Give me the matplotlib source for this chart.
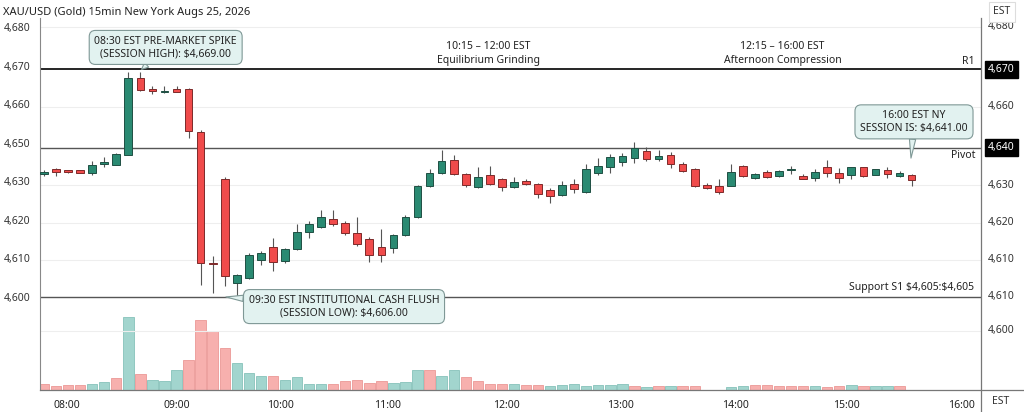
import matplotlib
matplotlib.use("Agg")
import matplotlib.pyplot as plt
from matplotlib.transforms import blended_transform_factory
from matplotlib.lines import Line2D

plt.rcParams['font.family'] = ['Noto Sans', 'DejaVu Sans']

# 15min candles (price in chart scale units)
opens = [4641.8, 4643.1, 4642.8, 4642.8, 4642.1, 4644.6, 4644.3, 4646.9, 4666.8, 4664.0,
         4663.1, 4663.9, 4663.8, 4652.7, 4618.9, 4640.6, 4613.7, 4615.0, 4619.6, 4623.0,
         4619.4, 4622.4, 4626.8, 4628.2, 4630.3, 4629.1, 4626.5, 4625.0, 4623.0, 4622.6,
         4626.1, 4630.6, 4638.8, 4642.1, 4645.5, 4641.8, 4638.6, 4641.5, 4640.6, 4638.6,
         4640.1, 4639.2, 4637.7, 4636.4, 4639.2, 4637.1, 4642.1, 4643.7, 4644.9, 4646.0,
         4647.8, 4645.7, 4646.7, 4644.6, 4643.1, 4639.1, 4638.8, 4638.8, 4644.0, 4640.8,
         4642.3, 4641.3, 4642.9, 4641.4, 4640.8, 4643.7, 4642.1, 4641.5, 4643.6, 4641.6,
         4643.0, 4641.4, 4641.6]
highs = [4642.8, 4643.4, 4643.0, 4643.0, 4645.3, 4646.3, 4647.2, 4668.3, 4668.3, 4664.7,
         4664.7, 4664.6, 4664.2, 4653.3, 4620.7, 4641.0, 4615.9, 4621.5, 4622.0, 4625.4,
         4622.7, 4628.9, 4629.7, 4632.5, 4632.5, 4629.8, 4630.7, 4625.5, 4627.6, 4626.3,
         4631.3, 4639.0, 4643.1, 4648.1, 4646.8, 4642.1, 4643.6, 4644.0, 4640.9, 4641.0,
         4640.5, 4639.6, 4638.2, 4640.1, 4640.5, 4644.5, 4645.9, 4647.1, 4647.4, 4650.1,
         4649.0, 4648.1, 4647.5, 4645.1, 4643.4, 4639.5, 4640.5, 4644.5, 4644.2, 4642.1,
         4642.9, 4643.0, 4644.0, 4641.8, 4643.2, 4645.5, 4643.4, 4643.8, 4643.8, 4643.3,
         4643.8, 4642.7, 4642.0]
lows = [4641.4, 4641.4, 4642.1, 4642.1, 4641.6, 4643.7, 4644.2, 4646.8, 4663.3, 4662.6,
        4662.9, 4663.1, 4651.2, 4613.1, 4611.1, 4612.8, 4610.1, 4614.7, 4618.3, 4616.6,
        4618.8, 4622.2, 4625.2, 4628.0, 4628.3, 4626.1, 4623.2, 4619.1, 4619.1, 4621.3,
        4625.8, 4630.4, 4638.6, 4641.9, 4641.6, 4638.6, 4638.2, 4639.0, 4637.5, 4638.2,
        4639.0, 4635.7, 4634.4, 4636.2, 4636.9, 4636.9, 4641.6, 4642.2, 4644.0, 4644.8,
        4645.3, 4645.3, 4643.4, 4642.5, 4638.6, 4638.0, 4636.6, 4638.7, 4641.2, 4640.5,
        4640.9, 4641.1, 4641.9, 4640.5, 4640.1, 4641.0, 4639.5, 4640.5, 4641.2, 4641.5,
        4640.8, 4641.0, 4638.8]
closes = [4642.5, 4642.3, 4642.3, 4642.2, 4644.2, 4644.7, 4647.0, 4666.8, 4663.7, 4663.4,
          4663.5, 4663.2, 4652.9, 4618.9, 4618.5, 4615.4, 4615.6, 4620.8, 4621.5, 4619.1,
          4622.4, 4626.8, 4628.9, 4630.8, 4629.0, 4626.5, 4623.7, 4621.0, 4621.0, 4626.1,
          4630.6, 4638.8, 4642.1, 4645.3, 4641.9, 4639.0, 4641.0, 4639.4, 4638.4, 4639.8,
          4639.2, 4636.6, 4636.3, 4639.0, 4637.9, 4643.1, 4644.0, 4646.4, 4646.5, 4648.5,
          4645.7, 4646.5, 4644.5, 4642.7, 4638.8, 4638.3, 4637.3, 4642.5, 4641.4, 4641.8,
          4641.2, 4642.7, 4643.0, 4640.7, 4642.3, 4642.1, 4640.8, 4643.6, 4641.4, 4643.2,
          4641.9, 4642.2, 4640.3]

volumes = [57, 43, 50, 50, 63, 80, 120, 727, 160, 97,
           93, 197, 300, 700, 590, 420, 270, 167, 140, 140,
           100, 130, 60, 60, 60, 93, 97, 73, 90, 73,
           83, 197, 197, 143, 197, 133, 90, 63, 63, 60,
           50, 50, 40, 50, 60, 43, 50, 53, 60, 40,
           33, 43, 40, 40, 40, 0, 0, 33, 43, 50,
           50, 40, 40, 40, 40, 33, 43, 50, 43, 40,
           40, 40, 0]
vol_dir = list("dddduududuuuddddu uudu uuudd".replace(" ", "")) \
    + list("dddu uudu udddd udduu uuuuu dudud duu".replace(" ", "")) \
    + list("uuddd ddudd uduud d".replace(" ", ""))

time_ticks = [1.9, 11.0, 19.6, 28.5, 38.4, 47.8, 57.4, 66.6, 76.1]
time_labels = ["08:00", "09:00", "10:00", "11:00", "12:00", "13:00", "14:00", "15:00", "16:00"]

left_ticks = [4680, 4670, 4660, 4650, 4640, 4630, 4620, 4610]
left_labels = ["4,680", "4,670", "4,660", "4,650", "4,630", "4,620", "4,610", "4,600"]

right_ticks = [4680, 4669, 4659.3, 4648.7, 4639.0, 4629.2, 4619.6, 4610, 4601.2]
right_labels = ["4,680", "4,670", "4,660", "4,640", "4,630", "4,620", "4,610", "4,610", "4,600"]
right_boxed = [False, True, False, True, False, False, False, False, False]

r1_level = 4669
pivot_level = 4648.7
support_level = 4610

UP = '#2a8a72'
DOWN = '#f04b4b'
UP_EDGE = '#1f4f43'
DOWN_EDGE = '#7d2a2a'
VOL_UP = '#a2d5ce'
VOL_DOWN = '#f7b0ae'

fig = plt.figure(figsize=(10.24, 4.12), dpi=100)
rect = [40 / 1024, 22 / 412, 941 / 1024, 372 / 412]

# volume pane (behind)
axv = fig.add_axes(rect)
n = len(opens)
xs = list(range(n))
axv.bar(xs, volumes, width=0.86,
        color=[VOL_UP if d == 'u' else VOL_DOWN for d in vol_dir],
        edgecolor=['#86c2ba' if d == 'u' else '#eb9896' for d in vol_dir], linewidth=0.6)
axv.set_xlim(-0.33, 77.76)
axv.set_ylim(0, 3720)
axv.axis('off')

ax = fig.add_axes(rect)
ax.set_facecolor('none')
ax.set_xlim(-0.33, 77.76)
ax.set_ylim(4585.87, 4682.33)

for y in [4680, 4659.3, 4639.0, 4629.2, 4619.6, 4601.2]:
    ax.axhline(y, color='#eeeeee', lw=0.8, zorder=0)

ax.axhline(r1_level, color='black', lw=1.2, zorder=1)
ax.axhline(pivot_level, color='#555555', lw=1.0, zorder=1)
ax.axhline(support_level, color='#555555', lw=1.0, zorder=1)

for i in xs:
    o, h, l, c = opens[i], highs[i], lows[i], closes[i]
    up = c >= o
    edge = UP_EDGE if up else DOWN_EDGE
    ax.vlines(i, l, h, color='#555555', lw=0.8, zorder=2)
    ax.bar(i, max(abs(c - o), 0.3), bottom=min(o, c), width=0.64,
           color=UP if up else DOWN, edgecolor=edge, linewidth=0.7, zorder=3)

# axes styling
for s in ['top', 'right']:
    ax.spines[s].set_visible(False)
ax.spines['left'].set_color('#888888')
ax.spines['left'].set_linewidth(0.8)
ax.spines['bottom'].set_visible(False)
ax.set_yticks(left_ticks, left_labels)
ax.set_xticks(time_ticks, time_labels)
ax.tick_params(axis='y', length=0, pad=7, labelsize=7.5, labelcolor='#333333')
ax.tick_params(axis='x', length=0, pad=7, labelsize=7.5, labelcolor='#222222')

# frame lines: bottom axis and right price scale
fig.add_artist(Line2D([40 / 1024, 1.0], [22 / 412, 22 / 412], color='#777777', lw=0.9))
fig.add_artist(Line2D([981 / 1024, 981 / 1024], [0, 394 / 412], color='#777777', lw=0.9))

# right price labels
tr = blended_transform_factory(fig.transFigure, ax.transData)
for v, lab, boxed in zip(right_ticks, right_labels, right_boxed):
    if boxed:
        ax.text(1001 / 1024, v, lab, transform=tr, ha='center', va='center', fontsize=7.5,
                color='white', fontweight='bold', clip_on=False,
                bbox=dict(boxstyle='square,pad=0.3', fc='black', ec='black'))
    else:
        ax.text(988 / 1024, v, lab, transform=tr, ha='left', va='center', fontsize=7.5,
                color='#333333', clip_on=False)

fig.text(1002 / 1024, 1 - 12 / 412, "EST", ha='center', va='center', fontsize=7.5, color='#333333',
         bbox=dict(boxstyle='square,pad=0.45', fc='white', ec='#dddddd', lw=0.8))
fig.text(1001 / 1024, 1 - 402 / 412, "EST", ha='center', va='center', fontsize=7.5, color='#333333')

fig.text(3 / 1024, 1 - 12 / 412, "XAU/USD (Gold) 15min New York Augs 25, 2026",
         ha='left', va='center', fontsize=8, color='#222222')

# level labels
tl = blended_transform_factory(fig.transFigure, ax.transData)
ax.text(975 / 1024, r1_level + 0.6, "R1", transform=tl, ha='right', va='bottom', fontsize=7.5, color='#222222')
ax.text(975 / 1024, pivot_level - 0.7, "Pivot", transform=tl, ha='right', va='top', fontsize=7.5, color='#222222')
ax.text(974 / 1024, support_level + 1.0, r"Support S1 \$4,605:\$4,605", transform=tl,
        ha='right', va='bottom', fontsize=7.5, color='#222222')

# session labels
ax.text(36.85, 4673.1, "10:15 \u2013 12:00 EST\nEquilibrium Grinding", ha='center', va='center',
        fontsize=7.5, color='#222222', linespacing=1.3)
ax.text(61.3, 4673.1, "12:15 \u2013 16:00 EST\nAfternoon Compression", ha='center', va='center',
        fontsize=7.5, color='#222222', linespacing=1.3)

# callouts
box = dict(boxstyle='round,pad=0.5,rounding_size=0.6', fc='#e2f2f0', ec='#7f9896', lw=0.8)
arrow = dict(arrowstyle='wedge,tail_width=0.6,shrink_factor=0.5', fc='#e2f2f0', ec='#7f9896', lw=0.8,
             shrinkA=0, shrinkB=0)
ax.annotate("08:30 EST PRE-MARKET SPIKE\n(SESSION HIGH): $4,669.00", xy=(8.1, 4669), xytext=(10.1, 4674.7),
            ha='center', va='center', fontsize=7.5, color='#222222', bbox=box, arrowprops=arrow, zorder=6)
ax.annotate("09:30 EST INSTITUTIONAL CASH FLUSH\n(SESSION LOW): $4,606.00", xy=(15.1, 4610), xytext=(24.9, 4607.5),
            ha='center', va='center', fontsize=7.5, color='#222222', bbox=box, arrowprops=arrow, zorder=6)
ax.annotate("16:00 EST NY\nSESSION IS: $4,641.00", xy=(71.95, 4646.0), xytext=(72.2, 4655.4),
            ha='center', va='center', fontsize=7.5, color='#222222', bbox=box, arrowprops=arrow, zorder=6)

fig.savefig("out.png", dpi=100, facecolor='white')
